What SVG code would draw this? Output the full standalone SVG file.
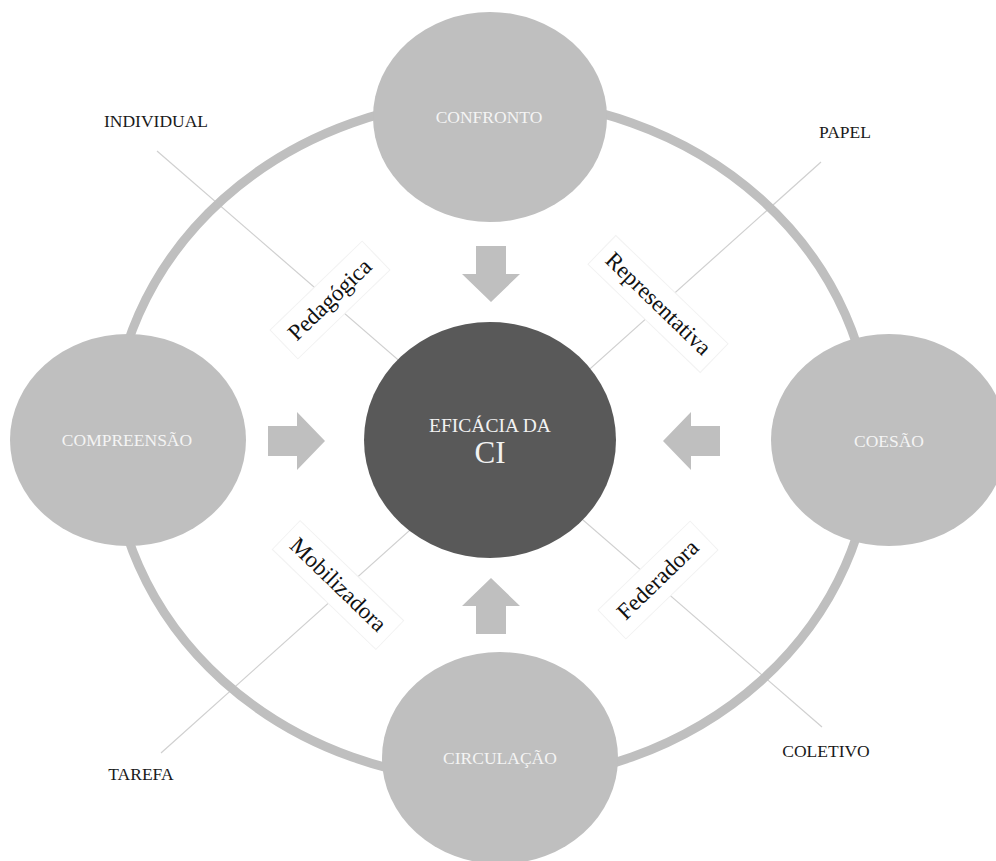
<svg xmlns="http://www.w3.org/2000/svg" width="996" height="861" viewBox="0 0 996 861">
<style>
.bg{fill:#ffffff}
.ring{fill:none;stroke:#bfbfbf;stroke-width:9}
.link{stroke:#d0d0d0;stroke-width:1.2;fill:none}
.node{fill:#bfbfbf}
.core{fill:#595959}
.arrow{fill:#bfbfbf}
.ntext{font-family:"Liberation Serif","Times New Roman",serif;font-size:17.5px;fill:#f4f4f4;text-anchor:middle}
.ctext{font-family:"Liberation Serif","Times New Roman",serif;fill:#f2f2f2;text-anchor:middle}
.corner{font-family:"Liberation Serif","Times New Roman",serif;font-size:17.5px;fill:#1a1a1a;text-anchor:middle}
.lbox{fill:#ffffff;stroke:#f2f2f2;stroke-width:1}
.lbl{font-family:"Liberation Serif","Times New Roman",serif;font-size:23px;fill:#111111;text-anchor:middle}
</style>
<rect class="bg" x="0" y="0" width="996" height="861"/>
<g id="connectors">
  <line class="link" x1="157" y1="151" x2="822" y2="727"/>
  <line class="link" x1="821" y1="162" x2="161" y2="753"/>
  <ellipse class="ring" cx="492" cy="440" rx="380" ry="341"/>
  <path class="arrow" d="M476,246 H506 V274 H520 L491,302 L462,274 H476 Z"/>
  <path class="arrow" d="M476,634 H506 V606 H520 L491,578 L462,606 H476 Z"/>
  <path class="arrow" d="M268,426 V456 H297 V470 L325,441 L297,412 V426 Z"/>
  <path class="arrow" d="M720,426 V456 H691 V470 L663,441 L691,412 V426 Z"/>
</g>
<g id="node-confronto">
  <ellipse class="node" cx="490" cy="117" rx="117" ry="105"/>
  <text class="ntext" x="489" y="123">CONFRONTO</text>
</g>
<g id="node-compreensao">
  <ellipse class="node" cx="128" cy="440" rx="118" ry="106"/>
  <text class="ntext" x="127" y="446">COMPREENSÃO</text>
</g>
<g id="node-coesao">
  <ellipse class="node" cx="889" cy="440" rx="118" ry="106"/>
  <text class="ntext" x="889" y="447">COESÃO</text>
</g>
<g id="node-circulacao">
  <ellipse class="node" cx="500" cy="758" rx="118" ry="106"/>
  <text class="ntext" x="500" y="764">CIRCULAÇÃO</text>
</g>
<g id="node-eficacia">
  <ellipse class="core" cx="490" cy="440" rx="126" ry="118"/>
  <text class="ctext" x="490" y="432" font-size="19.5">EFICÁCIA DA</text>
  <text class="ctext" x="490" y="463" font-size="31">CI</text>
</g>
<g id="label-pedagogica" transform="translate(330,300) rotate(-44)">
  <rect class="lbox" x="-64" y="-20" width="128" height="40"/>
  <text class="lbl" x="0" y="7">Pedagógica</text>
</g>
<g id="label-representativa" transform="translate(658,304) rotate(44)">
  <rect class="lbox" x="-78" y="-20" width="156" height="40"/>
  <text class="lbl" x="0" y="7">Representativa</text>
</g>
<g id="label-mobilizadora" transform="translate(338,585) rotate(44)">
  <rect class="lbox" x="-72" y="-20" width="144" height="40"/>
  <text class="lbl" x="0" y="7">Mobilizadora</text>
</g>
<g id="label-federadora" transform="translate(658,580) rotate(-44)">
  <rect class="lbox" x="-64" y="-20" width="128" height="40"/>
  <text class="lbl" x="0" y="7">Federadora</text>
</g>
<g id="corner-individual"><text class="corner" x="156" y="127">INDIVIDUAL</text></g>
<g id="corner-papel"><text class="corner" x="845" y="138">PAPEL</text></g>
<g id="corner-tarefa"><text class="corner" x="141" y="780">TAREFA</text></g>
<g id="corner-coletivo"><text class="corner" x="826" y="757">COLETIVO</text></g>
</svg>
